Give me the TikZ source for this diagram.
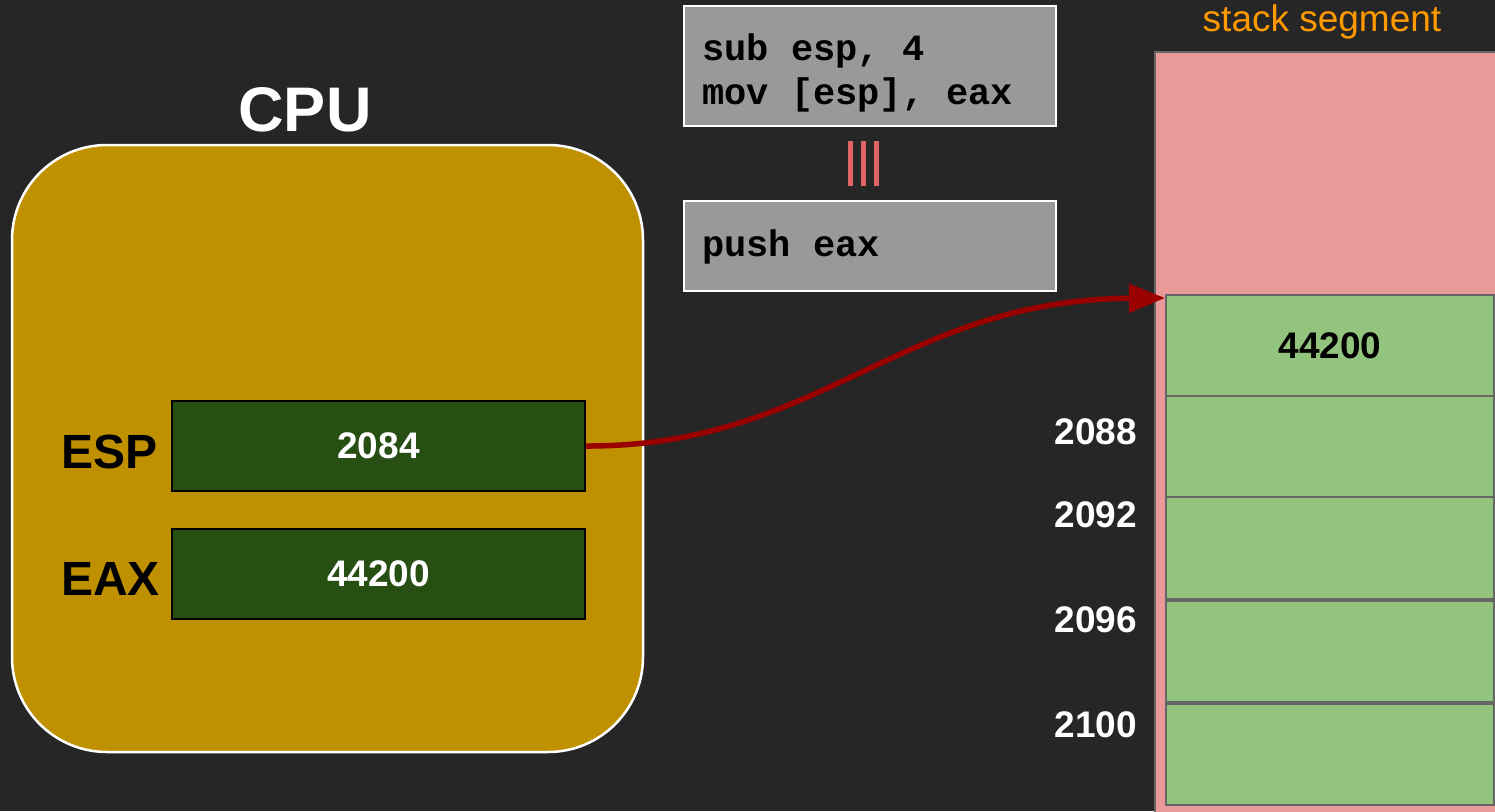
\documentclass[tikz,border=0pt]{standalone}
\usepackage{fontspec}
\setmainfont{Liberation Sans}
\newfontfamily\codefont{Liberation Mono}
\usetikzlibrary{arrows.meta}
\definecolor{bg}{HTML}{262626}
\definecolor{cpuc}{HTML}{BF9000}
\definecolor{regc}{HTML}{274E13}
\definecolor{codec}{HTML}{999999}
\definecolor{stackc}{HTML}{EA9999}
\definecolor{cellc}{HTML}{93C47D}
\definecolor{cellb}{HTML}{666666}
\definecolor{arrc}{HTML}{990000}
\definecolor{eqc}{HTML}{E06666}
\definecolor{segc}{HTML}{FF9900}
\tikzset{
  regbox/.style={draw=black, line width=1.5pt, fill=regc, minimum width=413pt, minimum height=90pt, inner sep=0pt,
    text=white, font=\fontsize{37}{40}\selectfont\bfseries},
  reglabel/.style={text=black, font=\fontsize{48}{52}\selectfont\bfseries, anchor=east, inner sep=0pt},
  codebox/.style={draw=white, line width=1.5pt, fill=codec, minimum width=372pt, inner sep=0pt},
  codetext/.style={anchor=west, inner sep=0pt, align=left, text=black, font=\codefont\fontsize{37}{44}\selectfont\bfseries},
  cell/.style={draw=cellb, line width=1.5pt, fill=cellc, minimum width=328pt, inner sep=0pt},
  addr/.style={text=white, anchor=east, inner sep=0pt, font=\fontsize{37}{40}\selectfont\bfseries},
  eqbar/.style={fill=eqc, draw=none},
}
\begin{document}
\begin{tikzpicture}[x=1pt,y=-1pt]
\useasboundingbox (0,0) rectangle (1495,811);
\clip (0,0) rectangle (1495,811);
\fill[bg] (0,0) rectangle (1495,811);
% CPU
\draw[white, line width=2.5pt, fill=cpuc, rounded corners=95pt] (12,145) rectangle (643,752);
\node (cputitle) [text=white, font=\fontsize{63}{70}\selectfont\bfseries, inner sep=0pt] at (305,110) {CPU};
\node (esp) [regbox] at (378.5,446) {2084};
\node (eax) [regbox] at (378.5,574) {44200};
\node (esplabel) [reglabel] at (158,452) {ESP};
\node (eaxlabel) [reglabel] at (160,579) {EAX};
% code boxes
\node (code1) [codebox, minimum height=120pt] at (870,66) {};
\node (code1t) [codetext] at (702,73) {sub esp, 4\\mov [esp], eax};
\node (code2) [codebox, minimum height=90pt] at (870,246) {};
\node (code2t) [codetext] at (702,247) {push eax};
% equivalence
\fill[eqbar] (848,141) rectangle (853,186);
\fill[eqbar] (861,141) rectangle (866,186);
\fill[eqbar] (874,141) rectangle (879,186);
% stack segment
\node (seglabel) [text=segc, font=\fontsize{37}{40}\selectfont, inner sep=0pt] at (1322,22) {stack segment};
\draw[cellb, line width=1.5pt, fill=stackc] (1155,52) rectangle (1520,830);
\node (c1) [cell, minimum height=101pt, font=\fontsize{37}{40}\selectfont\bfseries] at (1330,345.5) {44200};
\node (c2) [cell, minimum height=101pt] at (1330,446.5) {};
\node (c3) [cell, minimum height=102pt] at (1330,548) {};
\node (c4) [cell, minimum height=101pt] at (1330,651.5) {};
\node (c5) [cell, minimum height=101pt] at (1330,754.5) {};
\node (a1) [addr] at (1137,432) {2088};
\node (a2) [addr] at (1137,515) {2092};
\node (a3) [addr] at (1137,620) {2096};
\node (a4) [addr] at (1137,725) {2100};
% arrow
\coordinate (tip) at (1165,298);
\draw[arrc, line width=5.5pt, -{Triangle[length=36pt,width=28pt]}] (esp.east) .. controls (820,447) and (900,300) .. (tip);
\end{tikzpicture}
\end{document}
